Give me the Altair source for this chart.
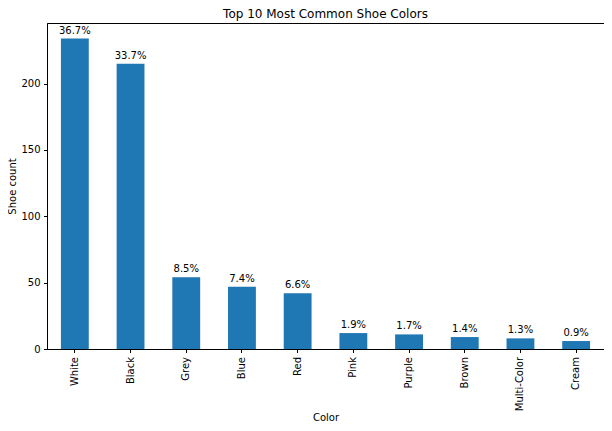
import altair as alt
import pandas as pd

colors = ["White", "Black", "Grey", "Blue", "Red", "Pink", "Purple", "Brown", "Multi-Color", "Cream"]
counts = [234, 215, 54, 47, 42, 12, 11, 9, 8, 6]
pct_labels = ["36.7%", "33.7%", "8.5%", "7.4%", "6.6%", "1.9%", "1.7%", "1.4%", "1.3%", "0.9%"]

df = pd.DataFrame({"Color": colors, "count": counts, "pct": pct_labels})

FONT = "DejaVu Sans"

x = alt.X("Color:N", sort=colors,
          scale=alt.Scale(paddingInner=0.5, paddingOuter=0.25),
          axis=alt.Axis(title="Color", labelAngle=270, labelAlign="right", labelBaseline="middle",
                        labelPadding=4, tickSize=3.5, titlePadding=2))
y = alt.Y("count:Q", scale=alt.Scale(domain=[0, 245.7], nice=False, zero=True),
          axis=alt.Axis(title="Shoe count", values=[0, 50, 100, 150, 200], tickSize=3.5,
                        labelPadding=3.5, titlePadding=3, grid=False))

bars = alt.Chart(df).mark_bar(color="#1f77b4").encode(x=x, y=y)
texts = alt.Chart(df).mark_text(baseline="bottom", dy=-3, fontSize=10, font=FONT, color="black").encode(
    x=alt.X("Color:N", sort=colors), y="count:Q", text="pct:N")

chart = (bars + texts).properties(
    width=557, height=326,
    background="white",
    title=alt.TitleParams("Top 10 Most Common Shoe Colors", fontSize=12, font=FONT,
                          fontWeight="normal", color="black", offset=2),
    autosize=alt.AutoSizeParams(type="none"),
    padding={"left": 39, "top": 15, "right": 0, "bottom": 74},
).configure_view(stroke="black", strokeWidth=1).configure_axis(
    labelFont=FONT, titleFont=FONT, labelFontSize=10, titleFontSize=10,
    labelColor="black", titleColor="black", tickColor="black", domainColor="black",
    titleFontWeight="normal", grid=False
)

chart.save("out.html", embed_options={"renderer": "svg", "actions": False})
